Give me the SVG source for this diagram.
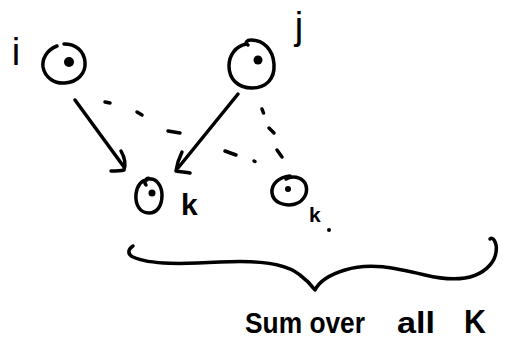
<svg xmlns="http://www.w3.org/2000/svg" width="508" height="351" viewBox="0 0 508 351">
<style>
.s{fill:none;stroke:#000;stroke-width:3.5;stroke-linecap:round;stroke-linejoin:round}
.d{fill:none;stroke:#000;stroke-width:3.5;stroke-linecap:round}
.dot{fill:#000}
.lbl{font-family:"Liberation Sans",Arial,sans-serif;fill:#000;font-weight:bold}
.nl{font-family:"Liberation Sans",Arial,sans-serif;fill:#000}
</style>
<rect width="508" height="351" fill="#fff"/>
<g id="node-i">
<path class="s" d="M57,46 C46,50 42,60 43,67 C45,78 55,84 65,83 C78,82 86,73 85,62 C84,51 76,44 64,44"/>
<circle class="dot" cx="69" cy="62" r="5"/>
<text class="nl" x="16" y="65" font-size="38" text-anchor="middle">i</text>
</g>
<g id="node-j">
<path class="s" d="M246,44 C236,46 229,55 229,66 C229,79 238,88 252,88 C266,88 275,79 274,64 C273,50 264,40 251,40 C247,40 244,43 248,45"/>
<circle class="dot" cx="258" cy="60" r="4.5"/>
<text class="nl" x="299" y="39" font-size="38" text-anchor="middle">j</text>
</g>
<g id="node-k1">
<path class="s" d="M146,185 C143,181 147,177 150,179 C156,178 162,186 162,195 C162,206 157,213 149,213 C140,213 135,205 136,194 C137,185 142,180 147,180"/>
<circle class="dot" cx="152" cy="193" r="3.5"/>
<text class="lbl" x="181" y="215" font-size="30">k</text>
</g>
<g id="node-k2">
<path class="s" d="M286,179 C292,175 301,177 305,183 C309,191 305,201 295,204 C284,207 273,202 272,193 C271,184 279,177 290,176"/>
<circle class="dot" cx="288" cy="189" r="3"/>
<text class="lbl" x="309" y="222" font-size="21">k</text>
<circle class="dot" cx="329" cy="230" r="2"/>
</g>
<g id="connectors">
<path class="s" d="M75,100 L124,167"/>
<path class="s" d="M121,151 C125,158 126,164 124,170 C120,171 115,171 111,171"/>
<path class="s" d="M238,94 L178,168"/>
<path class="s" d="M182,152 C179,158 177,164 176,171 C181,172 186,172 190,173"/>
<path class="d" d="M105,102 L110,103 M137,112 L142,115 M168,131 L180,133 M225,151 L236,155 M254,161 L255,161.5"/>
<path class="d" d="M262,109 L263.5,113 M269,128 L274,133 M277,150 L282,157"/>
</g>
<g id="brace">
<path class="s" d="M133,246 C128,249 127,254 133,257 C150,265 185,264 220,262 C255,260 285,262 300,275 C308,281 312,286 315,290 C318,284 325,276 345,270 C370,262 395,268 425,275 C450,281 475,282 490,265 C497,257 498,246 494,240 C493,238 491,238 490,239"/>
</g>
<text class="lbl" font-size="30"><tspan x="245" y="333" textLength="120" lengthAdjust="spacingAndGlyphs">Sum over</tspan><tspan x="397" y="333" textLength="38" lengthAdjust="spacingAndGlyphs">all</tspan><tspan x="464" y="333" font-size="34" textLength="22" lengthAdjust="spacingAndGlyphs">K</tspan></text>
</svg>
